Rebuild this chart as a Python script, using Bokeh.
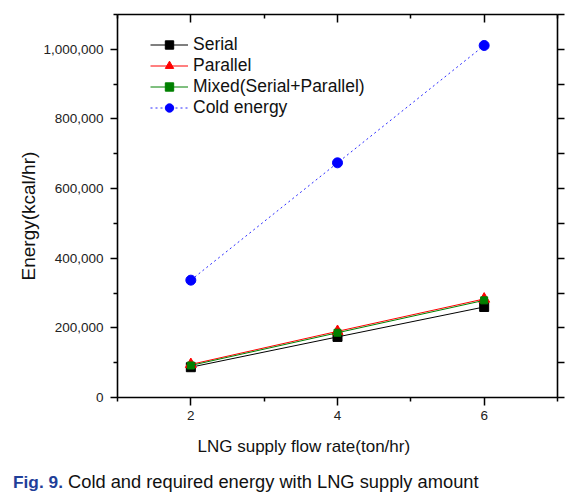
from bokeh.plotting import figure
from bokeh.layouts import column
from bokeh.models import (LinearAxis, FixedTicker, NumeralTickFormatter, Range1d, Title, Div,
                          Legend, LegendItem, CustomJSTickFormatter)
from bokeh.embed import file_html
from bokeh.resources import INLINE

# ---- data ----
flow = [2, 4, 6]
serial = [87000, 174000, 260000]
parallel = [95000, 190000, 283000]
mixed = [92000, 186000, 279000]
cold = [337000, 674000, 1011000]
x_major = [2, 4, 6]
x_minor = [1, 3, 5, 7]
y_major = [0, 200000, 400000, 600000, 800000, 1000000]
y_minor = [100000, 300000, 500000, 700000, 900000, 1100000]
x_label = "LNG supply flow rate(ton/hr)"
y_label = "Energy(kcal/hr)"
cap_fig = "Fig. 9."
cap_text = "Cold and required energy with LNG supply amount"

FONT = "Liberation Sans"

p = figure(width=581, height=471, output_backend="svg", toolbar_location=None,
           x_range=Range1d(1, 7), y_range=Range1d(0, 1100000),
           min_border_left=117, min_border_right=24, min_border_top=14, min_border_bottom=74,
           x_axis_location=None, y_axis_location=None)
p.xgrid.visible = False
p.ygrid.visible = False
p.outline_line_color = None
p.background_fill_color = "white"
p.border_fill_color = "white"

blank = CustomJSTickFormatter(code="return ''")

def style(ax, tin, tout, min_in, min_out):
    ax.axis_line_width = 1.6
    ax.axis_line_color = "black"
    ax.major_tick_line_width = 1.5
    ax.minor_tick_line_width = 1.5
    ax.major_tick_in = tin
    ax.major_tick_out = tout
    ax.minor_tick_in = min_in
    ax.minor_tick_out = min_out
    ax.major_label_text_font = FONT
    ax.major_label_text_font_size = "13.5px"
    ax.major_label_text_color = "#222222"

bottom = LinearAxis(ticker=FixedTicker(ticks=x_major, minor_ticks=x_minor))
style(bottom, 0, 8, 0, 4)
bottom.major_label_standoff = 5
p.add_layout(bottom, "below")

left = LinearAxis(ticker=FixedTicker(ticks=y_major, minor_ticks=y_minor),
                  formatter=NumeralTickFormatter(format="0,0"))
style(left, 0, 7, 0, 4)
left.major_label_standoff = 7
p.add_layout(left, "left")

top = LinearAxis(ticker=FixedTicker(ticks=x_major, minor_ticks=x_minor), formatter=blank)
style(top, 8, 0, 4, 0)
top.major_label_standoff = 0
p.add_layout(top, "above")

right = LinearAxis(ticker=FixedTicker(ticks=y_major, minor_ticks=y_minor), formatter=blank)
style(right, 0, 7, 0, 7)
right.major_label_standoff = 0
p.add_layout(right, "right")

p.add_layout(Title(text=x_label, align="left", offset=80, standoff=24,
                   text_font=FONT, text_font_size="17px", text_font_style="normal",
                   text_color="#111111"), "below")
p.add_layout(Title(text=y_label, align="left", offset=117, standoff=4,
                   text_font=FONT, text_font_size="19px", text_font_style="normal",
                   text_color="#111111"), "left")

# ---- series ----
l1 = p.line(flow, serial, line_color="black", line_width=1)
m1 = p.scatter(flow, serial, marker="square", size=9, fill_color="black", line_color="black")
l2 = p.line(flow, parallel, line_color="red", line_width=1)
m2 = p.scatter(flow, parallel, marker="triangle", size=11, fill_color="red", line_color="red")
l3 = p.line(flow, mixed, line_color="green", line_width=1)
m3 = p.scatter(flow, mixed, marker="square", size=7, fill_color="green", line_color="green")
l4 = p.line(flow, cold, line_color="#2a2aff", line_width=1, line_dash="2 3")
m4 = p.scatter(flow, cold, marker="circle", size=10, fill_color="#0000ff", line_color="#0000ff")

legend = Legend(items=[
    LegendItem(label="Serial", renderers=[l1, m1]),
    LegendItem(label="Parallel", renderers=[l2, m2]),
    LegendItem(label="Mixed(Serial+Parallel)", renderers=[l3, m3]),
    LegendItem(label="Cold energy", renderers=[l4, m4]),
], location=(33, 279), padding=0, margin=0, spacing=0,
    glyph_width=38, glyph_height=21, label_height=21, label_standoff=5,
    label_text_font=FONT, label_text_font_size="17.5px", label_text_color="#111111",
    border_line_color=None, background_fill_alpha=0)
p.add_layout(legend)

caption = Div(text=(
    '<div style="padding-left:13px;font-family:\'Liberation Sans\';font-size:18.3px;'
    'line-height:21px;color:#111111;white-space:nowrap;">'
    '<span style="color:#1f3f99;font-weight:bold;font-size:17.3px;">' + cap_fig + '</span> '
    + cap_text + '</div>'), width=581, height=25, margin=(0, 0, 0, 0))

layout = column(p, caption, spacing=0)
open("out.html", "w").write(file_html(layout, INLINE))
